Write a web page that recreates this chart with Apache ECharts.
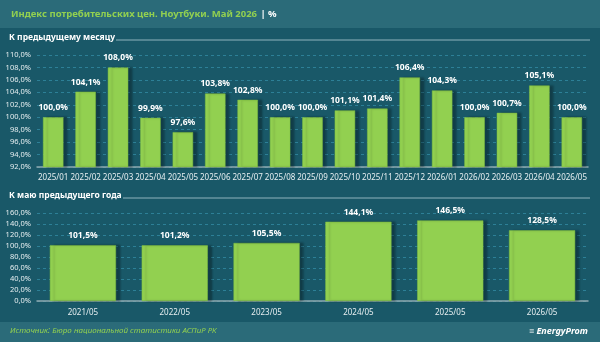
<!DOCTYPE html>
<html>
<head>
<meta charset="utf-8">
<script src="https://cdn.jsdelivr.net/npm/echarts@6/dist/echarts.min.js"></script>
<style>
  html, body {margin: 0; padding: 0; background: #195868;}
  #chart {width: 600px; height: 342px;}
</style>
</head>
<body>
<div id="chart"></div>
<script>
// month-on-month index
const monthCats = ['2025/01', '2025/02', '2025/03', '2025/04', '2025/05', '2025/06', '2025/07', '2025/08',
  '2025/09', '2025/10', '2025/11', '2025/12', '2026/01', '2026/02', '2026/03', '2026/04', '2026/05'];
const monthVals = [100.0, 104.1, 108.0, 99.9, 97.6, 103.8, 102.8, 100.0, 100.0, 101.1, 101.4, 106.4, 104.3, 100.0, 100.7, 105.1, 100.0];

// to May of previous year
const yearCats = ['2021/05', '2022/05', '2023/05', '2024/05', '2025/05', '2026/05'];
const yearVals = [101.5, 101.2, 105.5, 144.1, 146.5, 128.5];

const green = '#92d050';
const fmt = (v) => v.toFixed(1).replace('.', ',') + '%';

const chart = echarts.init(document.getElementById('chart'));

const axisLabelStyle = {color: '#e6eef0', fontSize: 8, fontFamily: 'Noto Sans'};
const splitLine = {show: true, lineStyle: {color: '#2d8097', type: [3, 3], width: 1}};
const barLabel = {
  show: true, position: 'top', distance: 5,
  color: '#ffffff', fontSize: 8.5, fontWeight: 'bold', fontFamily: 'Noto Sans',
  formatter: (p) => fmt(p.value)
};
const barItem = {
  color: green, borderColor: '#7fbf3f', borderWidth: 0.5,
  shadowColor: 'rgba(0,0,0,0.3)', shadowOffsetX: 4, shadowOffsetY: 0, shadowBlur: 2
};

chart.setOption({
  backgroundColor: '#195868',
  animation: false,
  graphic: [
    {type: 'rect', shape: {x: 0, y: 0, width: 600, height: 28}, style: {fill: '#2b6b79'}},
    {type: 'text', left: 11, top: 8, style: {
      rich: {
        g: {fill: '#92d050', fontSize: 9.5, fontWeight: 'bold', fontFamily: 'Noto Sans'},
        w: {fill: '#ffffff', fontSize: 9.5, fontWeight: 'bold', fontFamily: 'Noto Sans'}
      },
      text: '{g|Индекс потребительских цен. Ноутбуки. Май 2026} {w|| %}'
    }},
    {type: 'text', left: 9, top: 33, style: {text: 'К предыдущему месяцу', fill: '#ffffff', fontSize: 8.5, fontWeight: 'bold', fontFamily: 'Noto Sans'}},
    {type: 'line', shape: {x1: 116, y1: 40, x2: 590, y2: 40}, style: {stroke: '#8fb3bd', lineWidth: 1}},
    {type: 'text', left: 9, top: 191, style: {text: 'К маю предыдущего года', fill: '#ffffff', fontSize: 8.5, fontWeight: 'bold', fontFamily: 'Noto Sans'}},
    {type: 'line', shape: {x1: 123, y1: 198, x2: 590, y2: 198}, style: {stroke: '#8fb3bd', lineWidth: 1}},
    {type: 'rect', shape: {x: 0, y: 322, width: 600, height: 20}, style: {fill: '#2b6b79'}},
    {type: 'text', left: 10, top: 327, style: {text: 'Источник: Бюро национальной статистики АСПиР РК', fill: '#92d050', fontSize: 8, fontStyle: 'italic', fontFamily: 'Noto Sans'}},
    {type: 'text', right: 12, top: 327, style: {text: '≡ EnergyProm', fill: '#ffffff', fontSize: 9, fontStyle: 'italic', fontWeight: 'bold', fontFamily: 'Noto Sans'}}
  ],
  grid: [
    {left: 37, right: 12, top: 55, height: 112},
    {left: 37, right: 12, top: 213, height: 88}
  ],
  xAxis: [
    {type: 'category', gridIndex: 0, data: monthCats,
      axisLine: {lineStyle: {color: '#8fa9b0', width: 1.5}}, axisTick: {show: false},
      axisLabel: Object.assign({}, axisLabelStyle, {fontSize: 8, margin: 7, interval: 0})},
    {type: 'category', gridIndex: 1, data: yearCats,
      axisLine: {lineStyle: {color: '#8fa9b0', width: 1.5}}, axisTick: {show: false},
      axisLabel: Object.assign({}, axisLabelStyle, {margin: 8})}
  ],
  yAxis: [
    {type: 'value', gridIndex: 0, min: 92, max: 110, interval: 2,
      axisLine: {show: false}, axisTick: {show: false}, splitLine: splitLine,
      axisLabel: Object.assign({}, axisLabelStyle, {fontSize: 7.5, margin: 6, formatter: (v) => fmt(v)})},
    {type: 'value', gridIndex: 1, min: 0, max: 160, interval: 20,
      axisLine: {show: false}, axisTick: {show: false}, splitLine: splitLine,
      axisLabel: Object.assign({}, axisLabelStyle, {fontSize: 7.5, margin: 6, formatter: (v) => fmt(v)})}
  ],
  series: [
    {type: 'bar', xAxisIndex: 0, yAxisIndex: 0, data: monthVals, barCategoryGap: '37%',
      itemStyle: barItem, label: barLabel},
    {type: 'bar', xAxisIndex: 1, yAxisIndex: 1, data: yearVals, barCategoryGap: '28%',
      itemStyle: barItem, label: barLabel}
  ]
});
</script>
</body>
</html>
